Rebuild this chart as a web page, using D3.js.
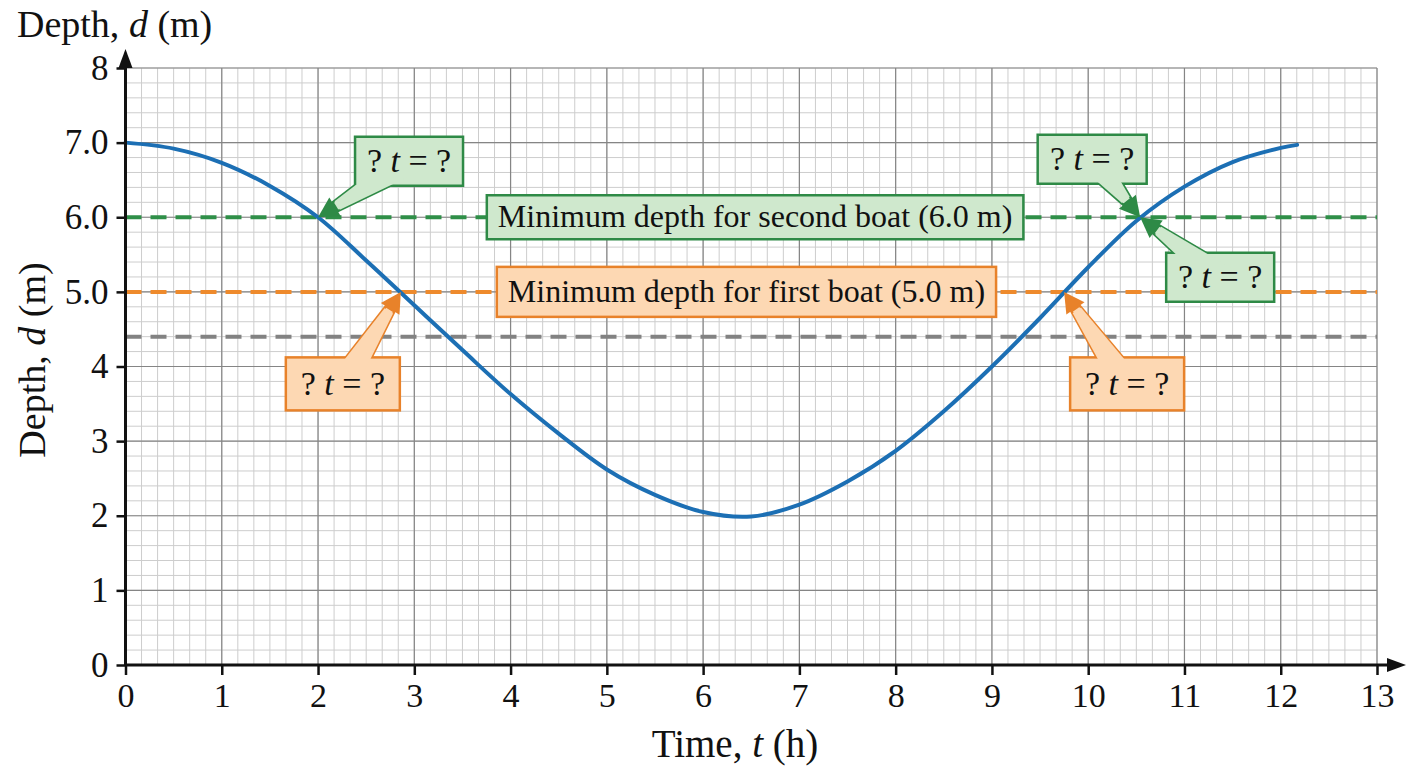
<!DOCTYPE html>
<html>
<head>
<meta charset="utf-8">
<script src="https://cdn.jsdelivr.net/npm/d3@7"></script>
<style>
    body { margin: 0; background: #ffffff; }
</style>
</head>
<body>
<div id="chart"></div>
<script>
// 潮汐曲线：时间 t (h) 与 水深 d (m)
const curveTime = [0, 0.5, 1, 1.5, 2, 2.5, 3, 3.5, 4, 4.5, 5, 5.5, 6, 6.5, 7, 7.5, 8, 8.5, 9, 9.5, 10, 10.5, 11, 11.5, 12, 12.17];
const curveDepth = [7.0, 6.92, 6.73, 6.42, 6.0, 5.42, 4.82, 4.22, 3.63, 3.1, 2.62, 2.28, 2.05, 1.99, 2.15, 2.46, 2.87, 3.4, 4.0, 4.65, 5.33, 5.95, 6.41, 6.74, 6.93, 6.97];

// 坐标轴刻度
const xTicks = [0, 1, 2, 3, 4, 5, 6, 7, 8, 9, 10, 11, 12, 13];
const yTicks = [0, 1, 2, 3, 4, 5, 6, 7, 8];
const yTickLabels = ["0", "1", "2", "3", "4", "5.0", "6.0", "7.0", "8"];

// 水平参考线
const levelValues = [6.0, 5.0, 4.4];
const levelNames = ["Minimum depth for second boat (6.0 m)", "Minimum depth for first boat (5.0 m)", ""];
const levelGroups = ["second", "first", "mean"];

// 曲线与参考线的交点 (标注 "? t = ?")
const crossTime = [2.0, 2.86, 10.54, 10.54, 9.75];
const crossDepth = [6.0, 5.0, 6.0, 6.0, 5.0];
const crossGroup = ["second", "first", "second", "second", "first"];

drawTideChart();

function drawTideChart() {
    const margin = { top: 68, right: 31, bottom: 103, left: 125.5 };
    const width = 1408 - margin.left - margin.right;
    const height = 768 - margin.top - margin.bottom;
    const font = "'Liberation Serif', 'Times New Roman', serif";

    const svg = d3.select("#chart").append("svg")
        .attr("width", 1408)
        .attr("height", 768)
        .style("background", "#ffffff");

    const g = svg.append("g")
        .attr("transform", `translate(${margin.left},${margin.top})`);

    const x = d3.scaleLinear().domain([0, 13]).range([0, width]);
    const y = d3.scaleLinear().domain([0, 8]).range([height, 0]);

    // 颜色
    const lineColor = d3.scaleOrdinal()
        .domain(["second", "first", "mean"])
        .range(["#2f8f48", "#ee8a2c", "#828282"]);
    const boxFill = d3.scaleOrdinal()
        .domain(["second", "first"])
        .range(["#cfe8cd", "#fdd8b3"]);
    const boxStroke = d3.scaleOrdinal()
        .domain(["second", "first"])
        .range(["#2e8a46", "#e8822a"]);

    // 细网格
    const minorX = d3.range(0, 13 * 6 + 1).map(i => i / 6);
    const minorY = d3.range(0, 8 * 5 + 1).map(i => i / 5);
    const grid = g.append("g").attr("class", "grid");
    grid.selectAll(".minor-x")
        .data(minorX)
        .enter().append("line")
        .attr("x1", d => x(d)).attr("x2", d => x(d))
        .attr("y1", y(0)).attr("y2", y(8))
        .attr("stroke", "#cdcdcd").attr("stroke-width", 1);
    grid.selectAll(".minor-y")
        .data(minorY)
        .enter().append("line")
        .attr("x1", x(0)).attr("x2", x(13))
        .attr("y1", d => y(d)).attr("y2", d => y(d))
        .attr("stroke", "#cdcdcd").attr("stroke-width", 1);
    // 粗网格
    grid.selectAll(".major-x")
        .data(xTicks)
        .enter().append("line")
        .attr("x1", d => x(d)).attr("x2", d => x(d))
        .attr("y1", y(0)).attr("y2", y(8))
        .attr("stroke", "#858585").attr("stroke-width", 1.2);
    grid.selectAll(".major-y")
        .data(yTicks)
        .enter().append("line")
        .attr("x1", x(0)).attr("x2", x(13))
        .attr("y1", d => y(d)).attr("y2", d => y(d))
        .attr("stroke", "#858585").attr("stroke-width", 1.2);

    // 虚线参考线
    g.selectAll(".level")
        .data(levelValues)
        .enter().append("line")
        .attr("class", "level")
        .attr("x1", x(0)).attr("x2", x(13))
        .attr("y1", d => y(d)).attr("y2", d => y(d))
        .attr("stroke", (d, i) => lineColor(levelGroups[i]))
        .attr("stroke-width", 4)
        .attr("stroke-dasharray", "16,9");

    // 曲线
    const points = curveTime.map((t, i) => [t, curveDepth[i]]);
    const line = d3.line()
        .x(d => x(d[0]))
        .y(d => y(d[1]))
        .curve(d3.curveCatmullRom.alpha(0.5));
    g.append("path")
        .datum(points)
        .attr("fill", "none")
        .attr("stroke", "#1c6fb4")
        .attr("stroke-width", 4)
        .attr("stroke-linecap", "round")
        .attr("d", line);

    // 参考线文字框
    const labelCenterT = [6.54, 6.45];
    const labelBoxH = [44, 50];
    levelNames.forEach((name, i) => {
        if (!name) return;
        const grp = levelGroups[i];
        const lg = g.append("g");
        const rect = lg.append("rect");
        const txt = lg.append("text")
            .attr("x", x(labelCenterT[i]))
            .attr("y", y(levelValues[i]) + 10)
            .attr("text-anchor", "middle")
            .attr("font-family", font)
            .attr("font-size", 32)
            .attr("fill", "#111")
            .text(name);
        const w = txt.node().getComputedTextLength() + 22;
        rect.attr("x", x(labelCenterT[i]) - w / 2)
            .attr("y", y(levelValues[i]) - labelBoxH[i] / 2)
            .attr("width", w)
            .attr("height", labelBoxH[i])
            .attr("fill", boxFill(grp))
            .attr("stroke", boxStroke(grp))
            .attr("stroke-width", 2.5);
    });

    // "? t = ?" 标注框，偏移量 (像素)
    const calloutDx = [91, -58, -48, 80, 63];
    const calloutDy = [-56, 92, -58, 60, 92];
    const calloutW = [108, 114, 109, 108, 114];
    const calloutH = [49, 53, 49, 49, 53];

    crossTime.forEach((t, i) => {
        const tx = x(t), ty = y(crossDepth[i]);
        drawCallout(g, tx, ty, tx + calloutDx[i], ty + calloutDy[i], calloutW[i], calloutH[i],
            boxStroke(crossGroup[i]), boxFill(crossGroup[i]), font);
    });

    // X轴
    const xAxis = g.append("g")
        .attr("transform", `translate(0,${height})`)
        .call(d3.axisBottom(x).tickValues(xTicks).tickSize(10).tickSizeOuter(0).tickPadding(8));
    xAxis.select(".domain").remove();
    xAxis.selectAll("line").attr("stroke", "#111").attr("stroke-width", 2.5);
    xAxis.selectAll("text")
        .attr("font-family", font)
        .attr("font-size", 34)
        .attr("fill", "#111");

    // Y轴
    const yAxis = g.append("g")
        .call(d3.axisLeft(y).tickValues(yTicks).tickSize(9).tickSizeOuter(0).tickPadding(8)
            .tickFormat((d, i) => yTickLabels[i]));
    yAxis.select(".domain").remove();
    yAxis.selectAll("line").attr("stroke", "#111").attr("stroke-width", 2.5);
    yAxis.selectAll("text")
        .attr("font-family", font)
        .attr("font-size", 35)
        .attr("fill", "#111");

    // 轴线和箭头
    g.append("line")
        .attr("x1", x(0)).attr("x2", width + 14)
        .attr("y1", height).attr("y2", height)
        .attr("stroke", "#111").attr("stroke-width", 3);
    g.append("line")
        .attr("x1", 0).attr("x2", 0)
        .attr("y1", height).attr("y2", -4)
        .attr("stroke", "#111").attr("stroke-width", 3);
    g.append("path")
        .attr("d", `M${width + 29},${height} L${width + 10},${height - 7} L${width + 10},${height + 7} Z`)
        .attr("fill", "#111");
    g.append("path")
        .attr("d", `M0,-19 L-7,0 L7,0 Z`)
        .attr("fill", "#111");

    // 轴标题
    const topTitle = svg.append("text")
        .attr("x", 17)
        .attr("y", 37)
        .attr("font-family", font)
        .attr("font-size", 38)
        .attr("fill", "#111");
    topTitle.append("tspan").text("Depth, ");
    topTitle.append("tspan").attr("font-style", "italic").text("d");
    topTitle.append("tspan").text(" (m)");

    const sideTitle = svg.append("text")
        .attr("transform", "translate(45,360) rotate(-90)")
        .attr("text-anchor", "middle")
        .attr("font-family", font)
        .attr("font-size", 38)
        .attr("fill", "#111");
    sideTitle.append("tspan").text("Depth, ");
    sideTitle.append("tspan").attr("font-style", "italic").text("d");
    sideTitle.append("tspan").text(" (m)");

    const bottomTitle = svg.append("text")
        .attr("x", 735)
        .attr("y", 757)
        .attr("text-anchor", "middle")
        .attr("font-family", font)
        .attr("font-size", 39)
        .attr("fill", "#111");
    bottomTitle.append("tspan").text("Time, ");
    bottomTitle.append("tspan").attr("font-style", "italic").text("t");
    bottomTitle.append("tspan").text(" (h)");
}

function drawCallout(layer, tx, ty, bx, by, bw, bh, stroke, fill, font) {
    const dx = tx - bx, dy = ty - by;
    const len = Math.hypot(dx, dy);
    const ux = dx / len, uy = dy / len;
    const px = -uy, py = ux;
    const headLen = 20, headHalf = 11, baseHalf = 14, neckHalf = 5;
    const nx = tx - ux * headLen, ny = ty - uy * headLen;

    const shaft = [
        [bx + px * baseHalf, by + py * baseHalf],
        [nx + px * neckHalf, ny + py * neckHalf],
        [nx - px * neckHalf, ny - py * neckHalf],
        [bx - px * baseHalf, by - py * baseHalf]
    ];
    const head = [
        [tx, ty],
        [nx + px * headHalf, ny + py * headHalf],
        [nx - px * headHalf, ny - py * headHalf]
    ];
    const poly = d3.line().curve(d3.curveLinearClosed);

    const cg = layer.append("g");
    // 尾巴 (描边)
    cg.append("path")
        .attr("d", poly(shaft))
        .attr("fill", fill)
        .attr("stroke", stroke)
        .attr("stroke-width", 2.5)
        .attr("stroke-linejoin", "round");
    // 方框
    cg.append("rect")
        .attr("x", bx - bw / 2)
        .attr("y", by - bh / 2)
        .attr("width", bw)
        .attr("height", bh)
        .attr("fill", fill)
        .attr("stroke", stroke)
        .attr("stroke-width", 2.5);
    // 尾巴与方框相接处去掉边线
    cg.append("path")
        .attr("d", poly(shaft))
        .attr("fill", fill)
        .attr("stroke", "none")
        .attr("transform", `translate(${-ux * 2.5},${-uy * 2.5})`);
    // 箭头
    cg.append("path")
        .attr("d", poly(head))
        .attr("fill", stroke);

    const txt = cg.append("text")
        .attr("x", bx)
        .attr("y", by + 11)
        .attr("text-anchor", "middle")
        .attr("font-family", font)
        .attr("font-size", 34)
        .attr("fill", "#111");
    txt.append("tspan").text("? ");
    txt.append("tspan").attr("font-style", "italic").text("t");
    txt.append("tspan").text(" = ?");
}
</script>
</body>
</html>
